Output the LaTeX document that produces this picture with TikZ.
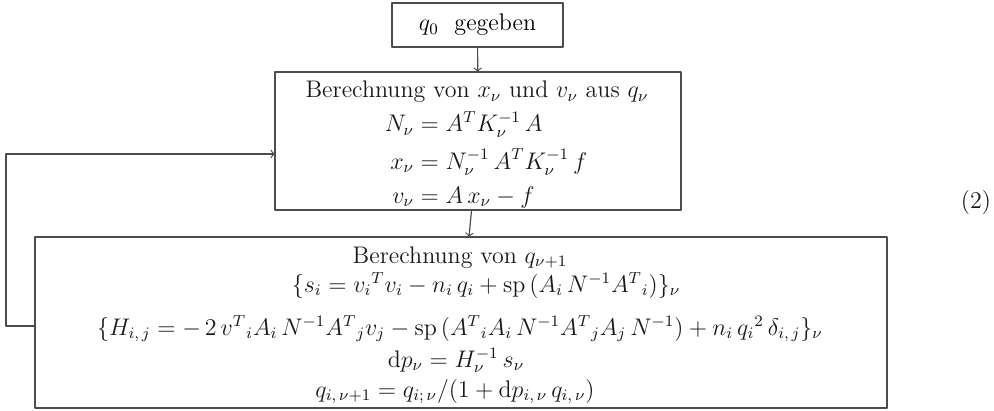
\documentclass[tikz,border=0pt]{standalone}
\usepackage{amsmath}
\usepackage{amssymb}
\usepackage{tikz}

\tikzset{
  box/.style={draw=black!70, line width=0.8pt, inner sep=0pt, outer sep=0pt},
  line/.style={anchor=base, inner sep=0pt, text=black!90},
  flow/.style={draw=black!70, line width=0.6pt, ->},
}

\begin{document}
\begin{tikzpicture}[x=0.5pt, y=-0.5pt, line join=round, font=\fontsize{12}{14}\selectfont]

    % Frame (pixel grid of the scan, y downwards)
    \useasboundingbox (0,0) rectangle (994,411);

    % Boxes
    \node[box, minimum width=85.5pt, minimum height=22pt] (given) at (477.5,25) {$q_0$\ \ gegeben};
    \node[box, minimum width=203pt, minimum height=69pt] (solve) at (478,141) {};
    \node[box, minimum width=426pt, minimum height=85.5pt] (update) at (461,322.5) {};

    % Contents of the first step
    \node[line] (solveHead) at (477,98) {Berechnung von $x_\nu$ und $v_\nu$ aus $q_\nu$};
    \node[line] (solveEq) at (486,132) {$\begin{aligned}[t]
        N_\nu &= A^T K_\nu^{-1}\, A\\
        x_\nu &= N_\nu^{-1}\, A^T K_\nu^{-1}\, f\\
        v_\nu &= A\, x_\nu - f
      \end{aligned}$};

    % Contents of the second step
    \node[line] (updHead) at (460,263) {Berechnung von $q_{\nu+1}$};
    \node[line] (updS) at (486,292) {$\{s_i = {v_i}^T v_i - n_i\, q_i + \mathrm{sp}\,(A_i\, N^{-1} {A^T}_i)\}_\nu$};
    \node[line] (updH) at (460,335) {$\{H_{i,\,j} = -\,2\,{v^T}_i A_i\, N^{-1} {A^T}_j v_j - \mathrm{sp}\,({A^T}_i A_i\, N^{-1} {A^T}_j A_j\, N^{-1}) + n_i\, q_i{}^2\, \delta_{i,\,j}\}_\nu$};
    \node[line] (updDp) at (456,367) {$\mathrm{d}p_\nu = H_\nu^{-1}\, s_\nu$};
    \node[line] (updQ) at (455,397) {$q_{i,\,\nu+1} = q_{i;\,\nu}/(1 + \mathrm{d}p_{i,\,\nu}\, q_{i,\,\nu})$};

    % Equation number
    \node[line] (eqno) at (976,208) {(2)};

    % Arrows down, and the loop back
    \coordinate (back) at (6,240);
    \draw[flow] (given) -- (solve);
    \draw[flow] (solve) -- (update);
    \draw[flow] ([yshift=-1.75pt]update.west) -| (back) |- ([yshift=-6.5pt]solve.west);

\end{tikzpicture}
\end{document}
